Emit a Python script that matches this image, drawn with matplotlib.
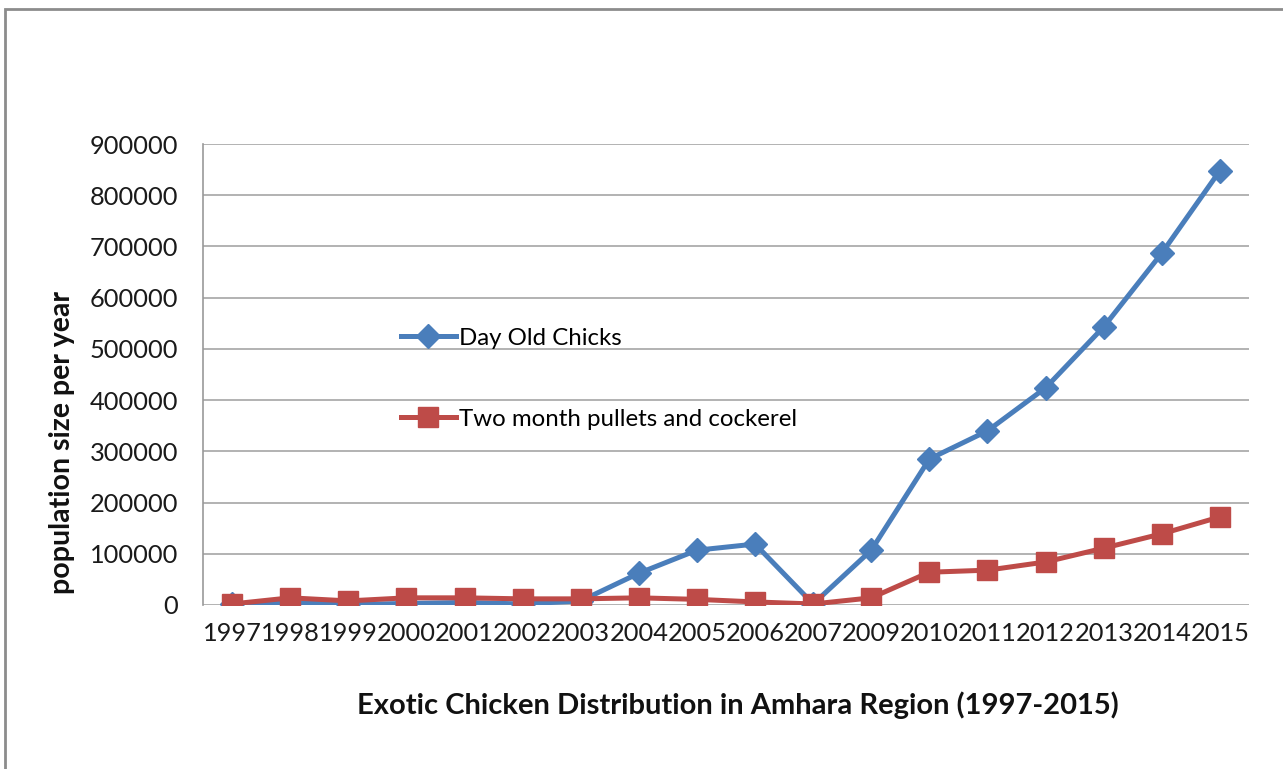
import matplotlib
matplotlib.use("Agg")
import matplotlib.pyplot as plt
from matplotlib.patches import Rectangle

years = ["1997", "1998", "1999", "2000", "2001", "2002", "2003", "2004", "2005",
         "2006", "2007", "2009", "2010", "2011", "2012", "2013", "2014", "2015"]
day_old_chicks = [1000, 5000, 1000, 3000, 5000, 2000, 8000, 62000, 107000,
                  119000, 2000, 107000, 285000, 340000, 424000, 543000, 687000, 848000]
two_month = [2000, 14000, 8000, 14000, 14000, 12000, 12000, 14000, 11000,
             6000, 2000, 14000, 64000, 68000, 84000, 111000, 139000, 172000]
yticks = list(range(0, 900001, 100000))

plt.rcParams['font.family'] = ['Lato', 'DejaVu Sans']

fig = plt.figure(figsize=(12.83, 7.69), dpi=100)
ax = fig.add_axes([203/1283, 1-605/769, (1249-203)/1283, (605-144)/769])

x = list(range(len(years)))
blue = '#4A7EBB'
red = '#BE4B48'
ax.plot(x, day_old_chicks, color=blue, lw=3.6, marker='D', ms=12,
        label='Day Old Chicks', zorder=3)
ax.plot(x, two_month, color=red, lw=3.6, marker='s', ms=14,
        label='Two month pullets and cockerel', zorder=4)

ax.set_xlim(-0.5, len(years)-0.5)
ax.set_ylim(0, 900000)
ax.set_yticks(yticks)
ax.set_yticklabels([str(v) for v in yticks])
ax.set_xticks(x)
ax.set_xticklabels(years)
ax.tick_params(axis='both', length=0, labelsize=18.3, colors='#1a1a1a')
ax.tick_params(axis='y', pad=18)
ax.tick_params(axis='x', pad=12)
ax.grid(axis='y', color='#A6A6A6', lw=1.2)
ax.set_axisbelow(True)
for s in ['top', 'right', 'bottom']:
    ax.spines[s].set_visible(False)
ax.spines['left'].set_color('#999999')
ax.spines['left'].set_linewidth(1.2)

fig.text(62/1283, 1-442/769, 'population size per year', rotation=90,
         ha='center', va='center', fontsize=20.5, fontweight='bold', color='#111111')

leg = ax.legend(loc='upper left', bbox_to_anchor=(188/1046, (605-318)/461), frameon=False,
                fontsize=17.3, labelspacing=2.5, handlelength=2.3, handletextpad=0.15,
                borderaxespad=0)

fig.text(738/1283, 1-705/769, 'Exotic Chicken Distribution in Amhara Region (1997-2015)',
         ha='center', va='center', fontsize=21, fontweight='bold', color='#111111')

fig.patches.append(Rectangle((5/1283, -0.1), 1.2, 1.1-9/769, transform=fig.transFigure,
                             fill=False, edgecolor='#8C8C8C', lw=2, clip_on=False))

fig.savefig('out.png', dpi=100, facecolor='white')
